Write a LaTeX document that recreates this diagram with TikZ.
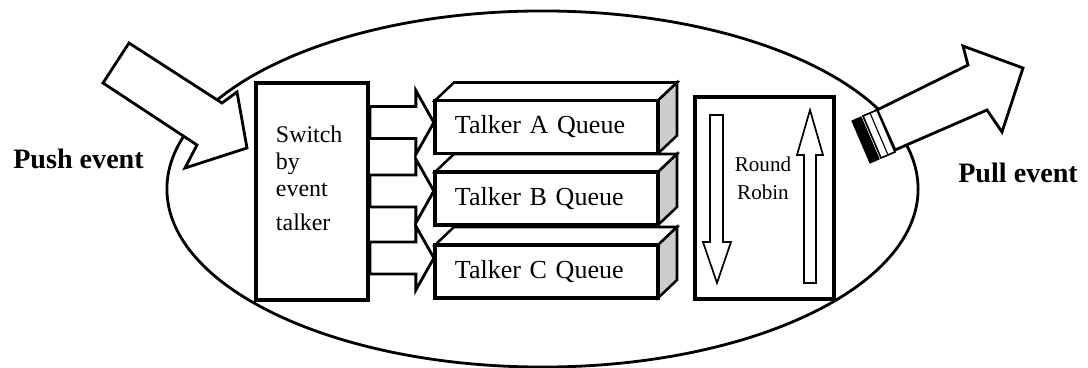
\documentclass[tikz,border=0pt]{standalone}
\usepackage{fontspec}
\setmainfont{Liberation Serif}
\usepackage{tikz}
\usetikzlibrary{shapes.geometric, arrows.meta, positioning}

% block arrow from the switch box to a queue, #1 = height of its middle
\newcommand{\feedarrow}[1]{%
  \filldraw[fill=white, line width=2pt, line join=miter]
    (switch.east |- 0,#1) ++(0,-16) -- ++(46,0) -- ++(0,-16) -- ++(18,32)
    -- ++(-18,32) -- ++(0,-16) -- ++(-46,0) -- cycle;}

\begin{document}
\begin{tikzpicture}[x=0.025cm, y=-0.025cm,
  box/.style={draw, fill=white, line width=2.6pt, inner sep=0pt},
  queue/.style={box, minimum width=5.575cm, minimum height=1.325cm,
    inner xsep=0.5cm, text width=4.575cm, align=left,
    font=\fontsize{18.5}{22}\selectfont},
  label/.style={font=\fontsize{20}{24}\selectfont\bfseries, inner sep=0pt}]

\useasboundingbox (0,0) rectangle (1088,368);

\node[draw, ellipse, line width=2pt, minimum width=18.775cm,
  minimum height=8.9cm, inner sep=0pt] (sys) at (542.5,189) {};

% incoming and outgoing events
\filldraw[fill=white, line width=2pt, line join=miter]
  (129,43) -- (222,103) -- (237,92) -- (247,148) -- (185,168) -- (197,145)
  -- (103,83) -- cycle;
\filldraw[fill=white, line width=2pt, line join=miter]
  (877,110) -- (968,65) -- (963,46) -- (1023,68) -- (1002,132) -- (987,110)
  -- (895,150) -- cycle;
\filldraw[fill=white, line width=1.2pt] (877,110) -- (895,152) -- (881,158) -- (863,116) -- cycle;
\draw[line width=0.8pt] (870,113) -- (888,155);
\filldraw[line width=0.8pt] (852,121) -- (861,117) -- (879,159) -- (870,163) -- cycle;

\node[label, anchor=base west] (push) at (13,168) {Push event};
\node[label, anchor=base west] (pull) at (958,182) {Pull event};

\node[box, minimum width=2.8cm, minimum height=5.425cm, inner xsep=0.5cm,
  text width=1.8cm, align=left, font=\fontsize{17}{19.2}\selectfont]
  (switch) at (312,191.5) {Switch\\by\\event\\[5pt]talker\\\mbox{}};

% queues, front faces first, then top and side
\foreach \name/\y/\txt in {qa/127/A, qb/198.5/B, qc/271.5/C}{
  \filldraw[fill=white, line width=1.8pt, line join=miter]
    (0,\y) ++(435,-26.5) -- ++(19,-18) -- ++(223,0) -- ++(-19,18) -- cycle;
  \filldraw[fill=gray!40, line width=1.8pt, line join=miter]
    (0,\y) ++(658,-26.5) -- ++(19,-18) -- ++(0,53) -- ++(-19,18) -- cycle;
  \node[queue] (\name) at (546.5,\y) {Talker \txt\ Queue};
}

\feedarrow{122.5}
\feedarrow{191}
\feedarrow{258}

\node[box, minimum width=3.475cm, minimum height=5.05cm] (rr) at (764.5,198) {};
\node[align=center, font=\fontsize{15}{20}\selectfont, inner sep=0pt]
  (rrtext) at (763,178) {Round\\Robin};
\filldraw[fill=white, line width=1.2pt, line join=miter]
  (710,115) -- (723,115) -- (723,242) -- (731,242) -- (717,283) -- (703,242)
  -- (710,242) -- cycle;
\filldraw[fill=white, line width=1.2pt, line join=miter]
  (804,283) -- (816,283) -- (816,155) -- (823,155) -- (810,110) -- (797,155)
  -- (804,155) -- cycle;

\end{tikzpicture}
\end{document}
